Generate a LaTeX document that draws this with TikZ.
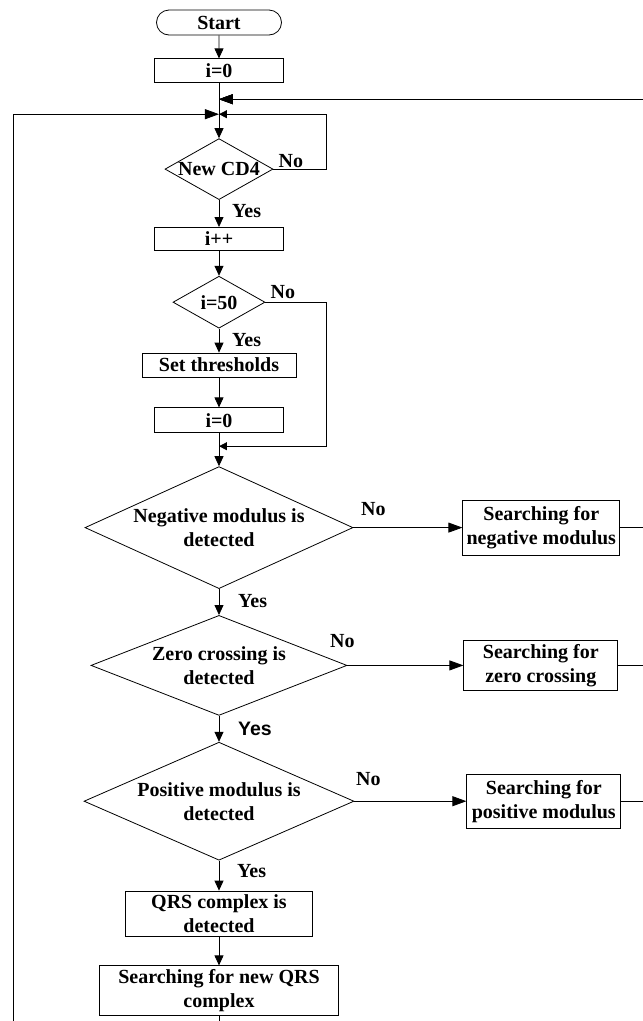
\documentclass[tikz,border=0pt]{standalone}
\usepackage{fontspec}
\setmainfont{Liberation Serif}
\setsansfont{Liberation Sans}
\usetikzlibrary{arrows.meta, chains, positioning, shapes}

\begin{document}
\begin{tikzpicture}[x=1pt, y=-1pt,
node distance= 25pt and 110pt,
     start chain = going below,
     font=\fontsize{20}{24}\selectfont\bfseries,
     base/.style = {draw, line width=0.8pt, align=center,
                    inner ysep=1pt, inner xsep=2pt,
                    join=by arrow, on chain}, %
startstop/.style = {base, rounded rectangle,
                    minimum width=129pt, minimum height=25pt},
  process/.style = {base, minimum height=24pt},
 decision/.style = {diamond, base, inner sep=0pt},
  sidebox/.style = {draw, line width=0.8pt, align=center, inner sep=2pt},
      lbl/.style = {inner sep=0pt},
  sanslbl/.style = {lbl, font=\fontsize{19.5}{24}\selectfont\sffamily\bfseries},
    arrow/.style = {-{Triangle[length=10pt, width=9pt]}, line width=0.8pt},
 bigarrow/.style = {arrow, -{Triangle[length=14pt, width=10pt]}},
 smlarrow/.style = {arrow, -{Triangle[length=8pt, width=8pt]}}
                    ]
\useasboundingbox (-219,-22.5) rectangle (424,998.5);
 % main
\node (start)  [startstop] {Start};
\node (init)   [process, below=23pt of start, minimum width=129pt] {i=0};
\node (newcd4) [decision, below=55pt of init, aspect=1.77,
                minimum width=108pt, minimum height=61pt] {New CD4};
\node (incr)   [process, below=27pt of newcd4,
                minimum width=129pt, minimum height=23pt] {i++};
\node (cnt50)  [decision, below=25pt of incr, aspect=1.77,
                minimum width=92pt, minimum height=52pt] {i=50};
\node (thresh) [process, below=24pt of cnt50, minimum width=154pt] {Set thresholds};
\node (reset)  [process, below=30pt of thresh,
                minimum width=129pt, minimum height=25pt] {i=0};
\node (negmod) [decision, below=33pt of reset, aspect=2.2,
                minimum width=268pt, minimum height=122pt] {Negative modulus is\\detected};
\node (zerocr) [decision, below=26pt of negmod, aspect=2.56,
                minimum width=256pt, minimum height=100pt] {Zero crossing is\\detected};
\node (posmod) [decision, below=26pt of zerocr, aspect=2.29,
                minimum width=270pt, minimum height=118pt] {Positive modulus is\\detected};
\node (qrs)    [process, below=30pt of posmod,
                minimum width=187pt, minimum height=45pt] {QRS complex is\\detected};
\node (newqrs) [process, below=29pt of qrs,
                minimum width=239pt, minimum height=50pt] {Searching for new QRS\\complex};

 % searching boxes on the right
\node (negsrch)  [sidebox, right=109pt of negmod,
                  minimum width=157pt, minimum height=55pt] {Searching for\\negative modulus};
\node (zerosrch) [sidebox, right=116pt of zerocr,
                  minimum width=154pt, minimum height=50pt] {Searching for\\zero crossing};
\node (possrch)  [sidebox, right=112pt of posmod,
                  minimum width=154pt, minimum height=54pt] {Searching for\\positive modulus};

 % labels
\node (yes1) [lbl, anchor=west] at ([shift={(13,11)}]newcd4.south) {Yes};
\node (no1)  [lbl, anchor=west] at ([shift={(5,-8)}]newcd4.east) {No};
\node (yes2) [lbl, anchor=west] at ([shift={(13,11)}]cnt50.south) {Yes};
\node (no2)  [lbl, anchor=west] at ([shift={(5,-10)}]cnt50.east) {No};
\node (yes3) [lbl, anchor=west] at ([shift={(19,12)}]negmod.south) {Yes};
\node (no3)  [lbl] at ([shift={(20,-19)}]negmod.east) {No};
\node (yes4) [sanslbl, anchor=west] at ([shift={(19,13)}]zerocr.south) {Yes};
\node (no4)  [lbl] at ([shift={(-5,-24)}]zerocr.east) {No};
\node (yes5) [lbl, anchor=west] at ([shift={(18,10)}]posmod.south) {Yes};
\node (no5)  [lbl] at ([shift={(14,-22)}]posmod.east) {No};

 % merge points and loop corners
\coordinate [below=16pt of init.south] (topin);
\coordinate [below=31pt of init.south] (loopin);
\coordinate [below=13pt of reset.south] (mergein);
\coordinate [right=107pt of loopin] (cd4back);
\coordinate [right=107pt of mergein] (cntback);
\coordinate [right=440pt of topin] (farright);
\coordinate [left=206pt of loopin] (farleft);
\coordinate [below=28pt of newqrs.south] (farbottom);

\draw[smlarrow] (newcd4.east) -| (cd4back) -- (loopin);
\draw[smlarrow] (cnt50.east) -| (cntback) -- (mergein);
\draw[bigarrow] (negmod.east) -- (negsrch.west);
\draw[bigarrow] (zerocr.east) -- (zerosrch.west);
\draw[bigarrow] (posmod.east) -- (possrch.west);
\draw[bigarrow] (negsrch.east) -| (farright) -- (topin);
\draw[bigarrow] (zerosrch.east) -| (farright) -- (topin);
\draw[bigarrow] (possrch.east) -| (farright) -- (topin);
\draw[bigarrow] (newqrs.south) -- (farbottom) -| (farleft) -- (loopin);
\end{tikzpicture}
\end{document}
